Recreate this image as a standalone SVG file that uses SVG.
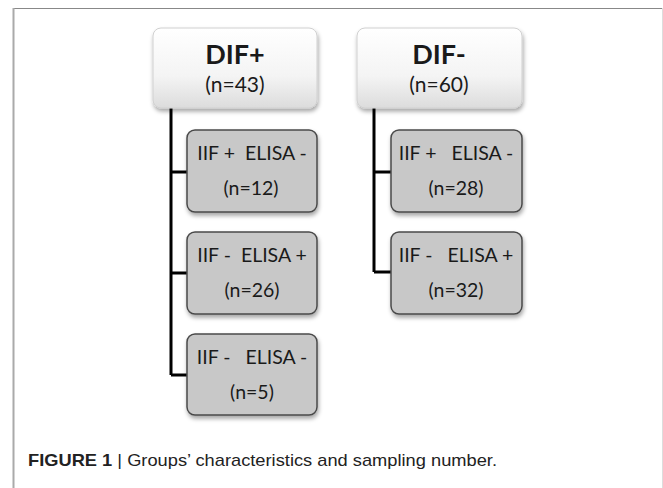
<svg xmlns="http://www.w3.org/2000/svg" width="663" height="488" viewBox="0 0 663 488">
<defs>
<linearGradient id="gMain" x1="0" y1="0" x2="0" y2="1">
<stop offset="0" stop-color="#ffffff"/>
<stop offset="0.6" stop-color="#f4f4f4"/>
<stop offset="1" stop-color="#dcdcdc"/>
</linearGradient>
<filter id="sh" x="-10%" y="-10%" width="125%" height="135%">
<feDropShadow dx="1" dy="3" stdDeviation="2" flood-color="#000" flood-opacity="0.35"/>
</filter>
<style>
.main{fill:url(#gMain);stroke:#d0d0d0;stroke-width:1;filter:url(#sh)}
.sub{fill:#c8c8c8;stroke:#4a4a4a;stroke-width:1.5;filter:url(#sh)}
.t{font-family:Lato,"Open Sans",sans-serif;fill:#1a1a1a;text-anchor:middle}
.ttl{font-size:27px;font-weight:bold}
.n{font-size:21px}
.s{font-size:19.5px}
.conn{fill:none;stroke:#000;stroke-width:3}
.cap{font-family:"Liberation Sans",Arial,sans-serif;font-size:17px;fill:#222}
</style>
</defs>
<rect x="0" y="0" width="663" height="488" fill="#fff"/>
<line x1="13" y1="8.5" x2="663" y2="8.5" stroke="#888" stroke-width="1"/>
<line x1="13.5" y1="8" x2="13.5" y2="488" stroke="#aaa" stroke-width="2"/>
<line x1="662.5" y1="8" x2="662.5" y2="488" stroke="#ddd" stroke-width="1"/>

<g id="connectors">
<path class="conn" d="M171,108 V375 M171,172 H187 M171,273 H187 M171,375 H187"/>
<path class="conn" d="M374,108 V272 M374,172 H391 M374,272 H391"/>
</g>

<g id="difplus">
<rect class="main" x="153" y="28" width="164" height="80" rx="8"/>
<text class="t ttl" x="235" y="64">DIF+</text>
<text class="t n" x="235" y="92">(n=43)</text>
</g>
<g id="difminus">
<rect class="main" x="357" y="28" width="165" height="80" rx="8"/>
<text class="t ttl" x="439" y="64">DIF-</text>
<text class="t n" x="439" y="92">(n=60)</text>
</g>

<g id="p1">
<rect class="sub" x="187" y="130" width="130" height="82" rx="8"/>
<text class="t s" x="252" y="160" xml:space="preserve">IIF +  ELISA -</text>
<text class="t s" x="251" y="195">(n=12)</text>
</g>
<g id="p2">
<rect class="sub" x="187" y="232" width="130" height="82" rx="8"/>
<text class="t s" x="252" y="262" xml:space="preserve">IIF -  ELISA +</text>
<text class="t s" x="252" y="297">(n=26)</text>
</g>
<g id="p3">
<rect class="sub" x="187" y="334" width="130" height="81" rx="8"/>
<text class="t s" x="252" y="364" xml:space="preserve">IIF -   ELISA -</text>
<text class="t s" x="252" y="399">(n=5)</text>
</g>
<g id="m1">
<rect class="sub" x="391" y="130" width="131" height="82" rx="8"/>
<text class="t s" x="456" y="160" xml:space="preserve">IIF +   ELISA -</text>
<text class="t s" x="456" y="195">(n=28)</text>
</g>
<g id="m2">
<rect class="sub" x="391" y="232" width="131" height="82" rx="8"/>
<text class="t s" x="456" y="262" xml:space="preserve">IIF -   ELISA +</text>
<text class="t s" x="456" y="297">(n=32)</text>
</g>

<text class="cap" x="28" y="466" textLength="469" lengthAdjust="spacingAndGlyphs"><tspan font-weight="bold">FIGURE 1</tspan> | Groups’ characteristics and sampling number.</text>
</svg>
